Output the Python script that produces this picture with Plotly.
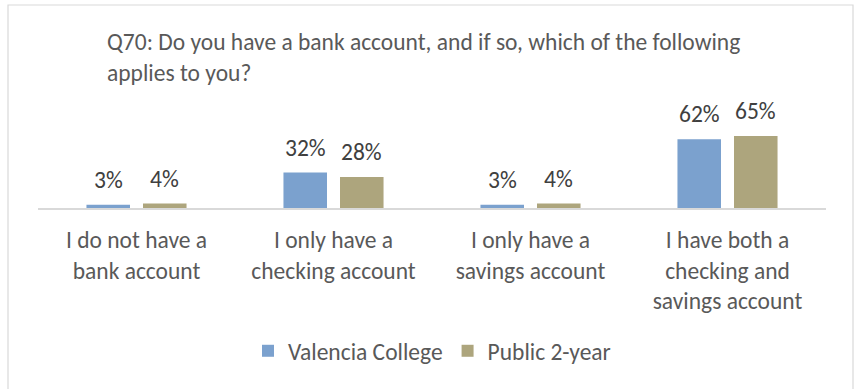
import plotly.graph_objects as go

# Survey responses (% of respondents)
categories = [
    "I do not have a<br>bank account",
    "I only have a<br>checking account",
    "I only have a<br>savings account",
    "I have both a<br>checking and<br>savings account",
]
valencia = [3, 32, 3, 62]
public_2yr = [4, 28, 4, 65]
series_names = ["Valencia College", "Public 2-year"]
colors = ["#7BA1CE", "#ADA57D"]

FONT = "Carlito, Calibri, 'Open Sans', sans-serif"
FS = 23.5

fig = go.Figure()
for name, vals, col in zip(series_names, [valencia, public_2yr], colors):
    fig.add_trace(go.Bar(
        x=categories, y=vals, name=name, marker_color=col,
        marker_line_width=0,
    ))

# value labels above each bar
offsets = [-28.25, 28.25]
for vals, dx in zip([valencia, public_2yr], offsets):
    for cat, v in zip(categories, vals):
        fig.add_annotation(
            x=cat, y=v, xref="x", yref="y", text=f"{v}%", showarrow=False,
            xshift=dx, yshift=25, yanchor="middle",
            font=dict(family=FONT, size=FS, color="#404040"),
        )

L, R, T, B = 38, 33, 130, 181
W, H = 859, 389
ph = H - T - B
pw = W - L - R

# outer chart frame
fig.add_shape(
    type="rect", xref="paper", yref="paper",
    x0=(8 - L) / pw, x1=(853 - L) / pw,
    y0=(H - B - 395) / ph, y1=(H - B - 5) / ph,
    line=dict(color="#D9D9D9", width=1.2), fillcolor="rgba(0,0,0,0)", layer="below",
)

fig.update_layout(
    width=W, height=H,
    margin=dict(l=L, r=R, t=T, b=B),
    paper_bgcolor="white", plot_bgcolor="white",
    barmode="group", bargap=0.426, bargroupgap=0.23,
    title=dict(
        text="Q70: Do you have a bank account, and if so, which of the following<br>applies to you?",
        x=107 / W, xanchor="left", xref="container",
        y=1 - 50 / H, yanchor="top", yref="container",
        font=dict(family=FONT, size=FS, color="#595959"),
    ),
    showlegend=True,
    legend=dict(
        orientation="h", x=0.5, xanchor="center",
        y=(H - B - 351) / ph, yanchor="middle",
        font=dict(family=FONT, size=FS, color="#595959"),
        bgcolor="rgba(0,0,0,0)",
    ),
    xaxis=dict(
        showline=True, linecolor="#D9D9D9", linewidth=1.5,
        ticks="", showgrid=False, ticklabelstandoff=10,
        tickfont=dict(family=FONT, size=FS, color="#595959"),
        fixedrange=True,
    ),
    yaxis=dict(
        range=[0, ph / 1.108], visible=False, showgrid=False, zeroline=False,
        fixedrange=True,
    ),
)

fig.write_html("out.html")
